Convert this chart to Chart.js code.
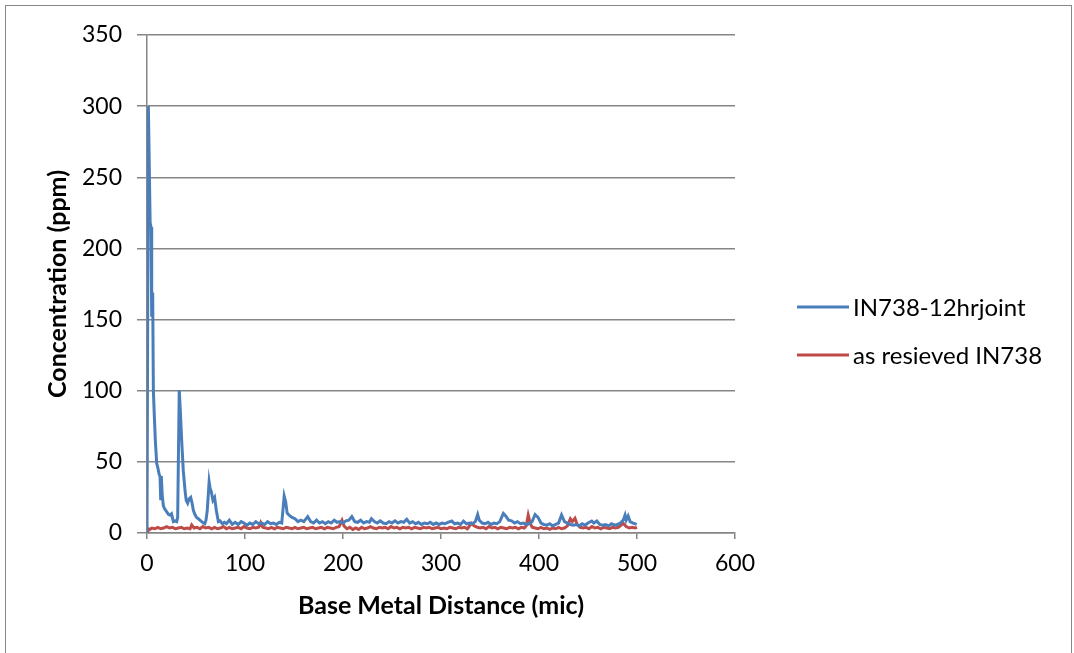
<!DOCTYPE html>
<html>
<head>
<meta charset="utf-8">
<script src="https://cdn.jsdelivr.net/npm/chart.js@4.4.1/dist/chart.umd.min.js"></script>
<style>
    html, body { margin: 0; padding: 0; background: #fff; overflow: hidden; }
    #frame {
        position: absolute; left: 5px; top: 5px; width: 1067px; height: 700px;
        box-sizing: border-box; border: 1px solid #888;
    }
    #chart { position: absolute; left: 0; top: 0; }
</style>
</head>
<body>
<div id="frame"></div>
<canvas id="chart" width="1074" height="653"></canvas>
<script>
// Series labels
const seriesNames = ['IN738-12hrjoint', 'as resieved IN738'];

// IN738-12hrjoint (distance in mic, concentration in ppm)
const jointX = [0, 1.4, 3.2, 4.1, 4.8, 5.8, 6.5, 7.5, 8.5, 9.9, 11, 12.5, 13.3, 14, 14.6, 15.5, 16.7, 18, 20, 22,
    23.5, 25, 26.9, 28.5, 30.3, 31.3, 32.9, 34, 35.4, 37, 38.8, 40, 41.5, 43, 44.6, 46, 47.3, 48.9, 50.5, 52.4,
    54, 55.8, 57.5, 59, 60.2, 61.5, 63.4, 64.5, 65.6, 67.3, 69, 70.7, 72.8, 74.5, 77, 79, 81, 84, 87, 90,
    93, 96, 99, 102, 105, 108, 111, 114, 117, 120, 123, 126, 129, 132, 135, 137.5, 140, 141.5, 143, 145,
    148, 151, 154, 157, 160, 164, 167, 170, 173, 176, 179, 182, 185, 188, 191, 194, 197, 200, 203, 206,
    209, 212, 215, 218, 221, 224, 227, 229, 232, 235, 238, 241, 244, 247, 250, 253, 256, 259, 262, 265,
    268, 271, 274, 277, 280, 283, 286, 289, 292, 295, 298, 301, 304, 307, 311, 314, 317, 320, 323, 326,
    329, 332, 335, 337.4, 339, 342, 345, 348, 351, 354, 357, 360, 363.6, 366, 369, 372, 375, 378, 381, 384,
    387, 390, 393, 396, 399, 402, 405, 408, 411, 414, 417, 420, 423, 426, 429, 432, 435, 438, 441, 444,
    447, 450, 453.8, 456, 459, 462, 465, 468, 471, 474, 477, 480, 483, 486, 487.8, 489, 491, 493, 496, 499.7];
const jointY = [0, 300, 218, 215, 152, 169, 100, 82, 65, 49, 46, 41, 40, 23, 40, 27, 19, 17, 15, 13,
    12.6, 13.5, 8, 8.5, 8, 11, 100.5, 86, 65, 44, 30, 23, 21, 24, 25, 21, 16, 13, 11, 10,
    9, 8, 7, 6.5, 9, 16, 36, 31, 29, 23, 25, 16, 8, 8.5, 6.5, 7.5, 6.5, 9, 6, 7.5,
    6, 8, 7, 5.5, 7, 6, 8, 6.5, 7, 6, 8, 6.5, 7, 6, 7.5, 7, 26, 22, 14, 12.6,
    11, 10, 8, 9, 8, 11.5, 8, 7, 9, 7, 8, 6.5, 8, 7, 9, 7.5, 8, 7, 8.5, 9,
    11.5, 8, 7.5, 9, 7, 8, 7.5, 10, 8, 7, 8.5, 7, 6.5, 8, 7, 8.5, 7, 8, 7.5, 9.6,
    7, 8, 6.5, 7.5, 6, 7, 6.5, 7.5, 6, 7, 6, 7, 6.5, 7.5, 8.4, 6.5, 7, 6, 8.4, 6.5,
    7, 6.5, 8, 13, 9, 7, 6.5, 7.5, 6, 7, 6.5, 8, 13.8, 12, 9, 8.5, 7, 8, 6.5, 7,
    6, 6.5, 8, 13, 11, 7, 6, 5.5, 6.5, 5, 6, 7, 12.6, 8, 7, 6, 5.5, 6, 5, 6.5,
    5.5, 7, 8.4, 7, 8.4, 6, 5.5, 6, 5, 6.5, 5.5, 6, 7, 9, 12.6, 9, 12, 8, 7, 6];

// as resieved IN738
const baseX = [0, 1, 3, 5, 8, 11, 14, 17, 20, 23, 26, 29, 32, 35, 38, 41, 44, 45.6, 48, 51,
    54, 57, 60, 63, 66, 69, 72, 75, 78, 81, 84, 87, 90, 93, 96, 99, 102, 105, 108, 111,
    114, 116, 118, 121, 124, 127, 130, 133, 136, 139, 142, 145, 148, 151, 154, 157, 160, 163, 166, 169,
    172, 175, 178, 181, 184, 187, 190, 193, 196, 199, 201, 204, 207, 210, 213, 216, 219, 222, 225, 228,
    231, 234, 237, 240, 243, 246, 249, 252, 255, 258, 261, 264, 267, 270, 273, 276, 279, 282, 285, 288,
    291, 294, 297, 300, 303, 306, 309, 312, 315, 318, 321, 324, 327, 331, 334, 337, 340, 343, 346, 349,
    352, 355, 358, 361, 364, 367, 370, 373, 376, 379, 382, 385, 387, 389, 391, 393, 396, 399, 402, 405,
    408, 411, 414, 417, 420, 423, 426, 429, 432, 434, 436.7, 439, 442, 445, 448, 451, 454, 457, 460, 463,
    466, 469, 472, 475, 478, 481, 483, 486, 489, 492, 495, 498, 500];
const baseY = [0.5, 3, 2.5, 3.5, 3, 4, 3, 3.5, 4.5, 3.5, 4, 3, 3.5, 4, 3, 3.5, 3, 5.6, 3.5, 4,
    3, 4.5, 3.5, 4, 3, 4, 3, 3.5, 4.5, 3, 4, 3, 3.5, 4, 3, 4.5, 3.5, 3, 4, 3.5,
    4, 7.3, 4, 3.5, 3, 4, 3, 4, 3.5, 3, 4, 3.5, 3, 4, 3, 3.5, 4, 3, 3.5, 4,
    3, 3.5, 4, 3, 4, 3.5, 3, 4, 4.5, 9, 5, 3, 4, 2.5, 3.5, 2.5, 4, 3, 3.5, 4.5,
    3.5, 3, 4, 3.5, 4, 3, 4.5, 3.5, 4, 3, 4, 3.5, 4, 3, 4, 3.5, 3, 4, 3.5, 4,
    3, 3.5, 4, 3, 3.5, 3, 4, 3.5, 3, 4, 3.5, 4, 3, 6.8, 5, 4, 3.5, 4, 3, 4.5,
    3.5, 4, 3, 4, 3.5, 3, 4, 3.5, 4, 3, 4, 3.5, 5, 12.6, 7, 4, 3.5, 3, 4, 3,
    3.5, 2.5, 3.5, 3, 4, 3, 3.5, 5, 10, 8, 10.3, 6, 4, 3.5, 4, 3, 4.5, 3.5, 4, 3,
    4, 3.5, 3, 4, 3.5, 4, 5, 6.8, 4.5, 3.5, 4, 3.5, 4];

const seriesColors = ['#4A7EBB', '#BE4B48'];
const FONT = "Lato, 'Open Sans', sans-serif";
const GRID = '#868686';

function toPoints(xs, ys) {
    return xs.map((x, i) => ({ x: x, y: ys[i] }));
}

// Excel-style legend drawn to the right of the plot
const sideLegend = {
    id: 'sideLegend',
    afterDraw(chart) {
        const ctx = chart.ctx;
        const rows = [307, 355];
        ctx.save();
        ctx.font = "24px " + FONT;
        ctx.textBaseline = 'middle';
        ctx.textAlign = 'left';
        chart.data.datasets.forEach((ds, i) => {
            const y = rows[i];
            ctx.strokeStyle = ds.borderColor;
            ctx.lineWidth = 3;
            ctx.beginPath();
            ctx.moveTo(797, y);
            ctx.lineTo(849, y);
            ctx.stroke();
            ctx.fillStyle = '#000';
            ctx.fillText(ds.label, 853, y + 1);
        });
        ctx.restore();
    }
};

new Chart(document.getElementById('chart'), {
    type: 'line',
    data: {
        datasets: [
            {
                label: seriesNames[0],
                data: toPoints(jointX, jointY),
                borderColor: seriesColors[0],
                borderWidth: 3,
                pointRadius: 0,
                tension: 0,
                fill: false
            },
            {
                label: seriesNames[1],
                data: toPoints(baseX, baseY),
                borderColor: seriesColors[1],
                borderWidth: 3,
                pointRadius: 0,
                tension: 0,
                fill: false
            }
        ]
    },
    options: {
        responsive: false,
        animation: false,
        layout: { padding: { left: 0, top: 35, right: 339, bottom: 0 } },
        plugins: {
            legend: { display: false },
            tooltip: { enabled: false }
        },
        scales: {
            x: {
                type: 'linear',
                min: 0,
                max: 600,
                ticks: {
                    stepSize: 100,
                    color: '#000',
                    padding: 11,
                    font: { family: FONT, size: 23 }
                },
                grid: {
                    drawOnChartArea: false,
                    color: GRID,
                    tickColor: GRID,
                    tickLength: 6,
                    lineWidth: 1.5
                },
                border: { color: GRID, width: 1.5 },
                title: {
                    display: true,
                    text: 'Base Metal Distance (mic)',
                    color: '#000',
                    font: { family: FONT, size: 25, weight: 'bold' },
                    padding: { top: 0, bottom: 32 }
                },
                afterFit: (scale) => { scale.height = 120; }
            },
            y: {
                min: 0,
                max: 350,
                ticks: {
                    stepSize: 50,
                    color: '#000',
                    padding: 15,
                    font: { family: FONT, size: 23 }
                },
                grid: {
                    color: GRID,
                    tickColor: GRID,
                    tickLength: 10,
                    lineWidth: 1.5
                },
                border: { color: GRID, width: 1.5 },
                title: {
                    display: true,
                    text: 'Concentration (ppm)',
                    color: '#000',
                    font: { family: FONT, size: 25, weight: 'bold' },
                    padding: { top: 43, bottom: 0 }
                },
                afterFit: (scale) => { scale.width = 147; }
            }
        }
    },
    plugins: [sideLegend]
});
</script>
</body>
</html>
